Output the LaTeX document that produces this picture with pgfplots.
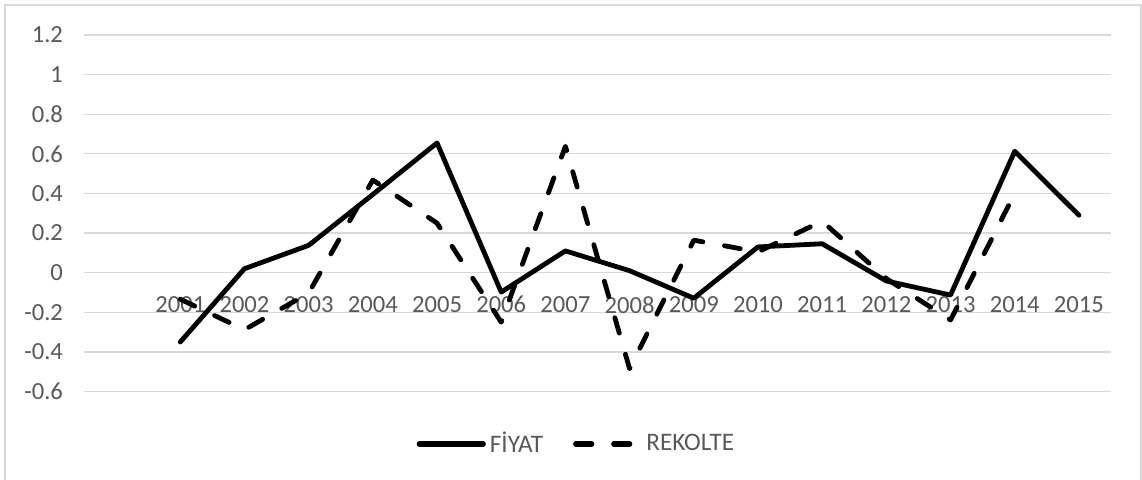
\documentclass[border=0pt]{standalone}
\usepackage{fontspec}
\setmainfont{Carlito}
\usepackage{pgfplots}
\pgfplotsset{compat=1.18}

\definecolor{txtgray}{RGB}{89,89,89}
\definecolor{gridgray}{RGB}{217,217,217}

\begin{document}
\begin{tikzpicture}
\useasboundingbox (-42pt,-43.75pt) rectangle (529pt,195.75pt);
\draw[gridgray, line width=0.75pt] (-39.5pt,-60pt) -- (-39.5pt,193.25pt) -- (528.5pt,193.25pt) -- (528.5pt,-60pt);

\begin{axis}[
  scale only axis,
  width=513.5pt, height=178.25pt,
  xmin=1999.5, xmax=2015.5,
  ymin=-0.6, ymax=1.2,
  axis line style={draw=none},
  major tick length=0pt,
  tick style={draw=none},
  ymajorgrids,
  grid style={gridgray, line width=0.65pt},
  ytick={-0.6,-0.4,-0.2,0,0.2,0.4,0.6,0.8,1,1.2},
  yticklabels={-0.6,-0.4,-0.2,0,0.2,0.4,0.6,0.8,1,1.2},
  xtick={2001,2002,2003,2004,2005,2006,2007,2008,2009,2010,2011,2012,2013,2014,2015},
  xticklabels={2001,2002,2003,2004,2005,2006,2007,2008,2009,2010,2011,2012,2013,2014,2015},
  tick label style={font=\fontsize{12.3}{14}\selectfont, text=txtgray},
  yticklabel style={anchor=east, xshift=-7pt},
  xticklabel style={anchor=center, yshift=43.4pt},
  legend columns=2,
  legend style={draw=none, fill=none, at={(0.4805,-0.147)}, anchor=center,
    font=\fontsize{12.6}{14}\selectfont, text=txtgray,
    /tikz/every even column/.append style={column sep=13pt}},
  legend image code/.code={\draw[#1, line width=2.6pt, line cap=round] (0pt,0pt) -- (32pt,0pt);},
]
\addplot [black, line width=2.4pt, line cap=round, line join=round]
coordinates {
(2001,-0.35) (2002,0.02) (2003,0.138) (2004,0.395) (2005,0.655)
(2006,-0.098) (2007,0.11) (2008,0.01) (2009,-0.129) (2010,0.13)
(2011,0.146) (2012,-0.042) (2013,-0.113) (2014,0.613) (2015,0.29)
};
\addlegendentry{FİYAT}
\addplot [black, line width=2.4pt, line cap=round, line join=round, dash pattern=on 8pt off 11pt]
coordinates {
(2001,-0.134) (2002,-0.288) (2003,-0.103) (2004,0.468) (2005,0.25)
(2006,-0.25) (2007,0.638) (2008,-0.485) (2009,0.164) (2010,0.105)
(2011,0.26) (2012,-0.03) (2013,-0.239) (2014,0.40)
};
\addlegendentry{REKOLTE}
\end{axis}
\end{tikzpicture}
\end{document}
